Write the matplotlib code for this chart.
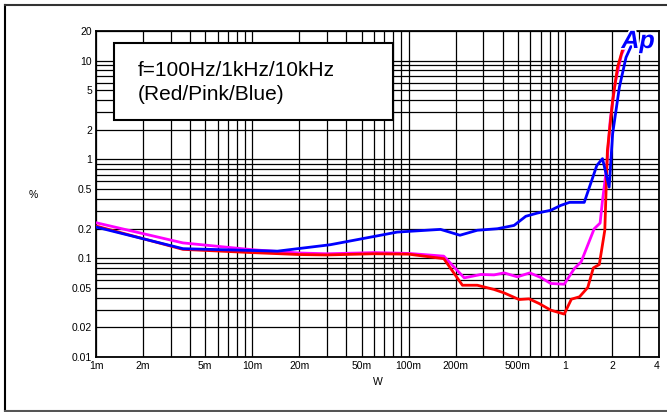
import numpy as np
import matplotlib
matplotlib.use("Agg")
import matplotlib.pyplot as plt
import matplotlib.patheffects as pe
from matplotlib.ticker import FixedLocator, LogLocator, NullFormatter
from matplotlib.patches import Rectangle
from matplotlib.lines import Line2D

plt.rcParams["font.family"] = ["Liberation Sans", "DejaVu Sans"]

# THD+N (%) vs output power (W)
watts_red = [0.001, 0.0036, 0.01, 0.02, 0.03, 0.06, 0.1, 0.168, 0.221, 0.275, 0.352,
             0.408, 0.509, 0.59, 0.684, 0.812, 0.99, 1.10, 1.24, 1.40, 1.52, 1.66,
             1.80, 1.87, 2.02, 2.17, 2.36, 2.5]
thd_red = [0.212, 0.123, 0.114, 0.109, 0.108, 0.111, 0.110, 0.099, 0.0533, 0.0533, 0.0483,
           0.0446, 0.0382, 0.0388, 0.0348, 0.0298, 0.0272, 0.0385, 0.0407, 0.0505, 0.0798, 0.0864,
           0.192, 1.23, 3.95, 8.55, 13.6, 15.9]

watts_pink = [0.001, 0.0036, 0.01, 0.02, 0.03, 0.06, 0.1, 0.168, 0.227, 0.29, 0.352,
              0.408, 0.497, 0.596, 0.701, 0.812, 0.99, 1.15, 1.27, 1.54, 1.68, 1.74,
              1.85, 1.95, 2.1, 2.3, 2.5]
thd_pink = [0.229, 0.143, 0.122, 0.113, 0.111, 0.114, 0.112, 0.105, 0.0633, 0.0685, 0.0678,
            0.0711, 0.0648, 0.0711, 0.0638, 0.0555, 0.0546, 0.0787, 0.0918, 0.199, 0.227, 0.385,
            0.836, 2.5, 6.0, 11.5, 15.5]

watts_blue = [0.001, 0.0036, 0.0145, 0.0315, 0.0846, 0.16, 0.213, 0.275, 0.37, 0.473,
              0.562, 0.668, 0.812, 0.942, 1.07, 1.33, 1.60, 1.74, 1.92, 2.02, 2.23,
              2.46, 2.72]
thd_blue = [0.207, 0.125, 0.118, 0.137, 0.184, 0.196, 0.171, 0.192, 0.199, 0.215,
            0.266, 0.287, 0.306, 0.343, 0.368, 0.368, 0.869, 1.02, 0.525, 1.82, 5.37,
            10.8, 15.3]

x_ticks = [0.001, 0.002, 0.005, 0.01, 0.02, 0.05, 0.1, 0.2, 0.5, 1, 2, 4]
x_labels = ["1m", "2m", "5m", "10m", "20m", "50m", "100m", "200m", "500m", "1", "2", "4"]
y_ticks = [0.01, 0.02, 0.05, 0.1, 0.2, 0.5, 1, 2, 5, 10, 20]
y_labels = ["0.01", "0.02", "0.05", "0.1", "0.2", "0.5", "1", "2", "5", "10", "20"]

fig = plt.figure(figsize=(6.67, 4.12), dpi=100)
ax = fig.add_axes([96 / 667, 55 / 412, 563 / 667, 326 / 412])

ax.set_xscale("log")
ax.set_yscale("log")
ax.set_xlim(0.001, 4)
ax.set_ylim(0.01, 20)

ax.xaxis.set_major_locator(FixedLocator(x_ticks))
ax.xaxis.set_minor_locator(LogLocator(base=10, subs=np.arange(1, 10)))
ax.yaxis.set_major_locator(FixedLocator(y_ticks))
ax.yaxis.set_minor_locator(LogLocator(base=10, subs=np.arange(1, 10)))
ax.xaxis.set_minor_formatter(NullFormatter())
ax.yaxis.set_minor_formatter(NullFormatter())
ax.set_xticklabels(x_labels)
ax.set_yticklabels(y_labels)
ax.get_xticklabels()[-1].set_ha("right")

ax.tick_params(which="both", length=0)
ax.tick_params(axis="x", pad=3, labelsize=7.5)
ax.tick_params(axis="y", pad=3, labelsize=7.5)
ax.grid(True, which="both", color="black", linewidth=0.9)
ax.set_axisbelow(True)
for s in ax.spines.values():
    s.set_linewidth(1.3)

ax.plot(watts_pink, thd_pink, color="#ff00ff", linewidth=2, zorder=3)
ax.plot(watts_red, thd_red, color="#ff0000", linewidth=2, zorder=4)
ax.plot(watts_blue, thd_blue, color="#0000ff", linewidth=2, zorder=5)

ax.set_xlabel("W", fontsize=7.5, labelpad=4)
fig.text(33 / 667, 1 - 195 / 412, "%", fontsize=7.5, ha="center", va="center")

# legend box
fig.patches.append(Rectangle((114 / 667, 1 - 120 / 412), 279 / 667, 77 / 412,
                             transform=fig.transFigure, facecolor="white",
                             edgecolor="black", linewidth=1.5, zorder=10))
fig.text(138 / 667, 1 - 76 / 412, "f=100Hz/1kHz/10kHz", fontsize=15,
         va="baseline", zorder=11)
fig.text(138 / 667, 1 - 100 / 412, "(Red/Pink/Blue)", fontsize=15,
         va="baseline", zorder=11)

# Ap logo
fig.text(638 / 667, 1 - 41 / 412, "Ap", fontsize=18, fontweight="bold",
         fontstyle="italic", color="#0000ff", ha="center", va="center", zorder=12,
         path_effects=[pe.withStroke(linewidth=2.5, foreground="white")])

# outer frame
fig.add_artist(Line2D([5 / 667, 5 / 667], [1.5 / 412, 1 - 5 / 412], color="black", linewidth=1.5))
fig.add_artist(Line2D([5 / 667, 1.0], [1 - 5 / 412, 1 - 5 / 412], color="#333333", linewidth=1.5))
fig.add_artist(Line2D([5 / 667, 1.0], [1.5 / 412, 1.5 / 412], color="#555555", linewidth=1.5))

fig.savefig("out.png", dpi=100)
